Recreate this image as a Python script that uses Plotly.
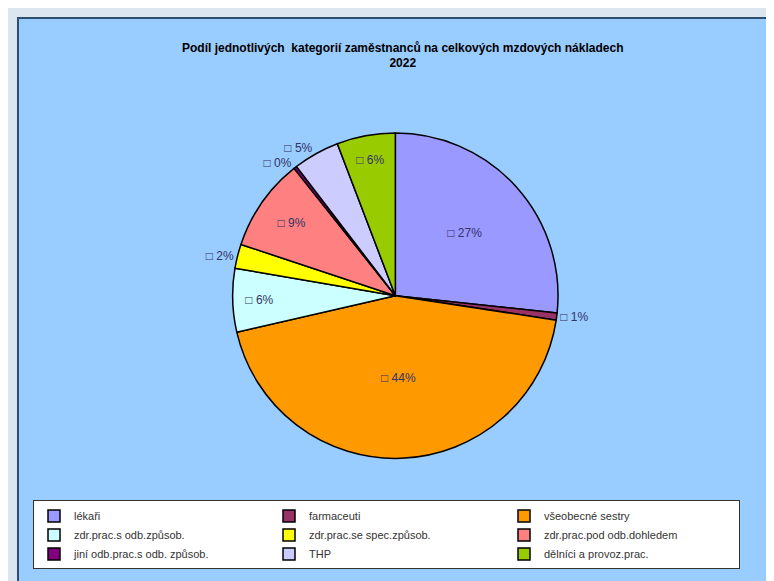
import plotly.graph_objects as go

# data (share of total wage costs)
categories = [
    "lékaři",
    "farmaceuti",
    "všeobecné sestry",
    "zdr.prac.s odb.způsob.",
    "zdr.prac.se spec.způsob.",
    "zdr.prac.pod odb.dohledem",
    "jiní odb.prac.s odb. způsob.",
    "THP",
    "dělníci a provoz.prac.",
]
values = [26.7, 0.7, 44.0, 6.3, 2.4, 9.2, 0.3, 4.6, 5.8]
colors = ["#9999FF", "#993366", "#FF9900", "#CCFFFF", "#FFFF00",
          "#FF8080", "#800080", "#CCCCFF", "#99CC00"]
text_pos = ["inside", "outside", "inside", "inside", "outside",
            "inside", "outside", "outside", "inside"]

fig = go.Figure()

fig.add_trace(go.Pie(
    labels=categories,
    values=values,
    sort=False,
    direction="clockwise",
    rotation=0,
    marker=dict(colors=colors, line=dict(color="#000000", width=1.5)),
    texttemplate="□ %{percent:.0%}",
    textposition=text_pos,
    insidetextorientation="horizontal",
    textfont=dict(family="Arial, Liberation Sans", size=12, color="#333366"),
    outsidetextfont=dict(family="Arial, Liberation Sans", size=12, color="#333366"),
    domain=dict(x=[0.0, 0.99], y=[0.215, 0.795]),
    showlegend=True,
))

fig.update_layout(
    width=774,
    height=581,
    paper_bgcolor="#DCE6F0",
    plot_bgcolor="#99CCFF",
    margin=dict(l=25, r=17, t=10, b=10, autoexpand=False),
    title=dict(
        text="<b>Podíl jednotlivých  kategorií zaměstnanců na celkových mzdových nákladech<br>2022</b>",
        x=0.51, xanchor="center", y=0.925, yanchor="middle",
        font=dict(family="Arial, Liberation Sans", size=12, color="#000000"),
    ),
    legend=dict(
        orientation="h",
        x=0.0, xanchor="left",
        y=0.14, yanchor="top",
        bgcolor="#FFFFFF",
        bordercolor="#333333",
        borderwidth=1,
        entrywidth=190,
        entrywidthmode="pixels",
        traceorder="normal",
        font=dict(family="Arial, Liberation Sans", size=11, color="#333333"),
    ),
    shapes=[
        dict(type="rect", xref="paper", yref="paper", layer="below",
             x0=-0.0205, x1=1.05, y0=-0.05, y1=1.0,
             fillcolor="#99CCFF", line=dict(color="#2F4F6F", width=2)),
    ],
)

fig.write_html("out.html")
